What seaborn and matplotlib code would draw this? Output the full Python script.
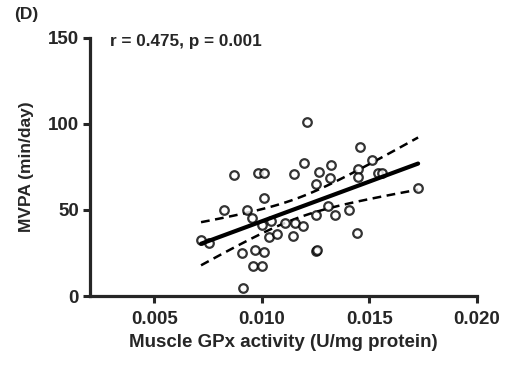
import numpy as np
import pandas as pd
import matplotlib
matplotlib.use("Agg")
import matplotlib.pyplot as plt
import seaborn as sns

# Data
gpx = [0.01209, 0.00980, 0.01011, 0.01456, 0.01198, 0.01150, 0.01268, 0.01320,
       0.01252, 0.01317, 0.01449, 0.01449, 0.01008, 0.00930, 0.00954, 0.01000,
       0.01042, 0.01031, 0.01070, 0.01108, 0.01155, 0.01190, 0.01147, 0.01252,
       0.01309, 0.01340, 0.01407, 0.01441, 0.01252, 0.01258, 0.00907, 0.00969,
       0.01011, 0.00961, 0.01000, 0.00912, 0.00871, 0.00822, 0.00717, 0.00752,
       0.01511, 0.01542, 0.01557, 0.01727]
mvpa = [101.3, 71.7, 71.7, 86.5, 77.1, 70.9, 72.3, 76.2,
        65.1, 68.4, 73.7, 69.4, 57.2, 50.0, 45.2, 41.3,
        43.8, 34.5, 36.0, 42.6, 42.3, 40.7, 34.9, 47.1,
        52.3, 47.1, 50.0, 36.8, 26.3, 26.8, 24.8, 26.7,
        25.4, 17.4, 17.6, 4.5, 70.3, 50.0, 32.6, 31.0,
        79.1, 71.3, 71.3, 63.0]

x_ticks = [0.005, 0.010, 0.015, 0.020]
x_tick_labels = ["0.005", "0.010", "0.015", "0.020"]
y_ticks = [0, 50, 100, 150]
stat_text = "r = 0.475, p = 0.001"
panel_label = "(D)"
x_label = "Muscle GPx activity (U/mg protein)"
y_label = "MVPA (min/day)"

df = pd.DataFrame({"gpx": gpx, "mvpa": mvpa})

sns.set_style("ticks")
plt.rcParams["font.family"] = ["Liberation Sans", "DejaVu Sans"]
plt.rcParams["font.weight"] = "bold"

fig = plt.figure(figsize=(5.11, 3.65), dpi=100)
ax = fig.add_axes([0.176, 0.189, 0.757, 0.707])

# 95% confidence band of the regression line
x = np.array(gpx)
y = np.array(mvpa)
n = len(x)
b, a = np.polyfit(x, y, 1)
xg = np.linspace(x.min(), x.max(), 100)
yg = a + b * xg
resid = y - (a + b * x)
s = np.sqrt(np.sum(resid ** 2) / (n - 2))
sxx = np.sum((x - x.mean()) ** 2)
se = s * np.sqrt(1.0 / n + (xg - x.mean()) ** 2 / sxx)
tval = 2.018
band = pd.DataFrame({"x": xg, "lo": yg - tval * se, "hi": yg + tval * se})

sns.lineplot(data=band, x="x", y="lo", ax=ax, color="black", lw=1.8,
             linestyle=(0, (3.5, 2.2)), zorder=2)
sns.lineplot(data=band, x="x", y="hi", ax=ax, color="black", lw=1.8,
             linestyle=(0, (3.5, 2.2)), zorder=2)

sns.regplot(data=df, x="gpx", y="mvpa", ax=ax, ci=None, truncate=True,
            scatter_kws=dict(s=38, facecolors="white", edgecolors="black",
                             linewidths=1.6, zorder=3),
            line_kws=dict(color="black", lw=3, zorder=4))

ax.set_xlim(0.002, 0.020)
ax.set_ylim(0, 150)
ax.set_xticks(x_ticks)
ax.set_xticklabels(x_tick_labels)
ax.set_yticks(y_ticks)
ax.tick_params(axis="both", labelsize=13.5, width=2.2, length=5, direction="out",
               pad=3)
ax.tick_params(axis="x", pad=6)
for lab in ax.get_xticklabels() + ax.get_yticklabels():
    lab.set_fontweight("bold")
for sp in ["left", "bottom"]:
    ax.spines[sp].set_linewidth(2.3)
sns.despine(ax=ax)

ax.set_xlabel(x_label, fontsize=13.5, fontweight="bold", labelpad=4)
ax.set_ylabel(y_label, fontsize=12.5, fontweight="bold", labelpad=10)

ax.text(0.052, 0.985, stat_text, transform=ax.transAxes, fontsize=12.3,
        fontweight="bold", va="center", ha="left")
fig.text(0.027, 0.96, panel_label, fontsize=12.5, fontweight="bold",
         va="center", ha="left")

fig.savefig("out.png", dpi=100)
